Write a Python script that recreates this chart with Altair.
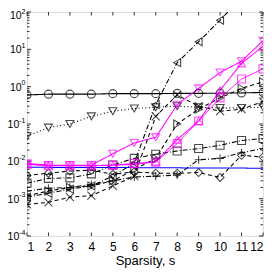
import altair as alt
import pandas as pd

s_vals = list(range(1, 13))

circles_k   = [0.60, 0.63, 0.63, 0.63, 0.65, 0.65, 0.65, 0.66, 0.66, 0.67, 0.68, 0.70]
tridown_k   = [0.047, 0.08, 0.10, 0.16, 0.22, 0.26, 0.28, 0.30, 0.28, 0.27, 0.27, 0.28]
trileft_k   = [0.0011, 0.0014, 0.0018, 0.0022, 0.004, 0.009, 0.33, 4.4, 16, 60, 250, 900]
triright_k  = [0.0012, 0.0016, 0.002, 0.0022, 0.003, 0.006, 0.012, 0.10, 0.25, 0.5, 0.9, 1.35]
squares_k   = [0.0026, 0.0035, 0.0036, 0.0046, 0.008, 0.012, 0.0155, 0.019, 0.022, 0.027, 0.036, 0.041]
diamonds_k  = [0.0042, 0.0048, 0.0055, 0.0058, 0.0045, 0.0052, 0.0048, 0.0048, 0.005, 0.0037, 0.0145, 0.013]
plus_k      = [0.0016, 0.0019, 0.002, 0.0024, 0.003, 0.0038, 0.004, 0.0043, 0.011, 0.012, 0.017, 0.022]
cross_k     = [0.0007, 0.0008, 0.0011, 0.0012, 0.0022, 0.004, 0.16, 0.6, 0.3, 0.22, 0.25, 0.4]
blue_line   = [0.0069, 0.0069, 0.0068, 0.0068, 0.0068, 0.0068, 0.0067, 0.0067, 0.0066, 0.0066, 0.0066, 0.0065]
mag_down    = [0.0088, 0.0079, 0.0079, 0.0079, 0.016, 0.031, 0.044, 0.33, 0.9, 2.4, 4.8, 17]
mag_up      = [0.0085, 0.0077, 0.0077, 0.0077, 0.0079, 0.0083, 0.0098, 0.038, 0.12, 0.8, 4.2, 12]
mag_square  = [0.0083, 0.0076, 0.0076, 0.0076, 0.0079, 0.0088, 0.0095, 0.03, 0.12, 0.5, 1.6, 3.0]

names = ["01", "02", "03", "04", "05", "06", "07", "08", "09", "10", "11", "12"]
values = [circles_k, tridown_k, trileft_k, triright_k, squares_k, diamonds_k,
          plus_k, cross_k, blue_line, mag_down, mag_up, mag_square]
colors = ["black"] * 8 + ["#0000FF", "#FF00FF", "#FF00FF", "#FF00FF"]
dashes = [[1, 0], [1, 2.5], [5, 2, 1, 2], [4, 3], [5, 2, 1, 2], [4, 3],
          [5, 2, 1, 2], [4, 3], [1, 0], [1, 0], [1, 0], [1, 0]]
widths = [1.1, 1, 1, 1, 1, 1, 1, 1, 1.2, 1.5, 1.5, 1.5]
PLUS = "M-1,0L1,0M0,-1L0,1"
CROSS = "M-1,-1L1,1M-1,1L1,-1"
shapes = ["circle", "triangle-down", "triangle-left", "triangle-right", "square",
          "diamond", PLUS, CROSS, "circle", "triangle-down", "triangle-up", "square"]
sizes = [64, 64, 64, 64, 55, 80, 70, 60, 0, 95, 95, 80]

# y tick labels: base "10" and exponent
major_y = [1e-4, 1e-3, 1e-2, 1e-1, 1, 10, 100]
y_exps = ["-4", "-3", "-2", "-1", "0", "1", "2"]

rows = []
for n, vals in zip(names, values):
    for s, v in zip(s_vals, vals):
        rows.append({"series": n, "s": s, "v": v})
df = pd.DataFrame(rows)
df_pts = df[df["series"] != "09"]

W, H = 236, 224
FONT = "Liberation Sans"

xscale = alt.Scale(domain=[1, 12], nice=False, zero=False)
yscale = alt.Scale(type="log", domain=[1e-4, 1e2], nice=False)

xaxis = alt.Axis(values=s_vals, title="Sparsity, s", grid=False, ticks=False, domain=False,
                 labelFontSize=12, labelPadding=5, labelFont=FONT, labelColor="black",
                 titleFont=FONT, titleFontSize=13, titleFontWeight="normal", titleColor="black",
                 titlePadding=2)
yaxis = alt.Axis(values=major_y, title=None, grid=False, ticks=False, domain=False, labels=False)

X = alt.X("s:Q", scale=xscale, axis=xaxis)
Y = alt.Y("v:Q", scale=yscale, axis=yaxis)

sc = lambda rng: alt.Scale(domain=names, range=rng)

lines = alt.Chart(df).mark_line(clip=True).encode(
    x=X, y=Y,
    color=alt.Color("series:N", scale=sc(colors), legend=None),
    strokeDash=alt.StrokeDash("series:N", scale=sc(dashes), legend=None),
    strokeWidth=alt.StrokeWidth("series:N", scale=sc(widths), legend=None),
)

points = alt.Chart(df_pts).mark_point(clip=True, filled=False, strokeWidth=1.1).encode(
    x=X, y=Y,
    color=alt.Color("series:N", scale=sc(colors), legend=None),
    shape=alt.Shape("series:N", scale=sc(shapes), legend=None),
    size=alt.Size("series:N", scale=sc(sizes), legend=None),
)

minor_y = [k * 10.0 ** e for e in range(-4, 2) for k in range(2, 10)]
df_major = pd.DataFrame({"v": major_y})
df_minor = pd.DataFrame({"v": minor_y})
df_xt = pd.DataFrame({"s": s_vals})
df_lab = pd.DataFrame({"v": major_y, "base": ["10"] * 7, "exp": y_exps})
df_lab_neg = df_lab[df_lab["exp"].str.startswith("-")]
df_lab_mid = df_lab[df_lab["exp"].isin(["0", "1"])]
df_lab_top = df_lab[df_lab["exp"] == "2"]


def yticks(d, x0, x1):
    return alt.Chart(d).mark_rule(color="black", strokeWidth=0.8).encode(
        y=Y, x=alt.value(x0), x2=alt.value(x1))


def xticks(y0, y1):
    return alt.Chart(df_xt).mark_rule(color="black", strokeWidth=0.8).encode(
        x=X, y=alt.value(y0), y2=alt.value(y1))


def ylabel_layers(d, expw, shift=0.0):
    base = alt.Chart(d).mark_text(align="right", baseline="middle", font=FONT, fontSize=10.5,
                                  color="black", dy=1 + shift).encode(
        y=Y, x=alt.value(-1.5 - expw), text="base:N")
    exp = alt.Chart(d).mark_text(align="right", baseline="middle", font=FONT, fontSize=7,
                                 color="black", dy=-3.5 + shift).encode(
        y=Y, x=alt.value(-1.5), text="exp:N")
    return [base, exp]


chart = alt.layer(
    yticks(df_major, 0, 4), yticks(df_major, W - 4, W),
    yticks(df_minor, 0, 2.5), yticks(df_minor, W - 2.5, W),
    xticks(0, 3.5), xticks(H - 3.5, H),
    *ylabel_layers(df_lab_neg, 6.2), *ylabel_layers(df_lab_mid, 3.9),
    *ylabel_layers(df_lab_top, 3.9, shift=3.0),
    lines, points,
).properties(
    width=W, height=H,
    autosize=alt.AutoSizeParams(type="none"),
    padding={"left": 19, "top": 4, "right": 1, "bottom": 36},
).configure_view(stroke="black", strokeWidth=1).configure(background="white")

chart.save("out.html", embed_options={"renderer": "svg", "actions": False})
